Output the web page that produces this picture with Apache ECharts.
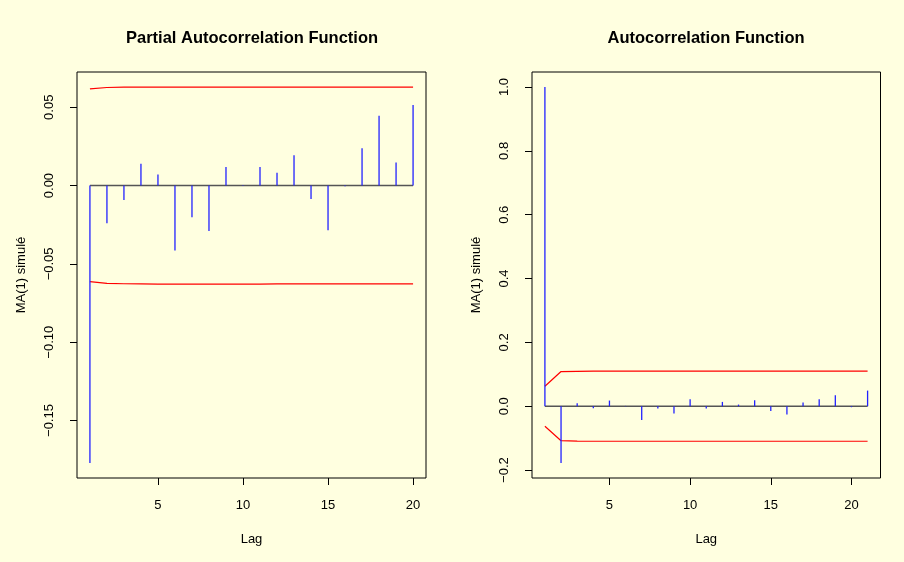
<!DOCTYPE html>
<html>
<head>
<meta charset="utf-8">
<script src="https://cdn.jsdelivr.net/npm/echarts@6/dist/echarts.min.js"></script>
<style>
  html, body { margin: 0; padding: 0; background: #FFFFE0; }
  #chart { width: 904px; height: 562px; }
</style>
</head>
<body>
<div id="chart"></div>
<script>
// Partial autocorrelation of the simulated MA(1) series, lags 1..20
const pacfLags = [1, 2, 3, 4, 5, 6, 7, 8, 9, 10, 11, 12, 13, 14, 15, 16, 17, 18, 19, 20];
const pacfValues = [-0.1771, -0.0241, -0.0092, 0.0140, 0.0070, -0.0415, -0.0202, -0.0290, 0.0119, 0.0004,
                    0.0119, 0.0081, 0.0194, -0.0085, -0.0285, -0.0004, 0.0238, 0.0445, 0.0147, 0.0515];
const pacfUpper = [0.0617, 0.0626, 0.0628, 0.0628, 0.0629, 0.0629, 0.0629, 0.0629, 0.0629, 0.0629,
                   0.0629, 0.0629, 0.0628, 0.0628, 0.0628, 0.0628, 0.0628, 0.0628, 0.0628, 0.0628];
const pacfLower = [-0.0613, -0.0625, -0.0627, -0.0628, -0.0629, -0.0629, -0.0629, -0.0629, -0.0629, -0.0629,
                   -0.0629, -0.0628, -0.0628, -0.0628, -0.0628, -0.0628, -0.0628, -0.0628, -0.0628, -0.0628];

// Autocorrelation of the same series, lags 1..21 (lag 1 = lag zero)
const acfLags = [1, 2, 3, 4, 5, 6, 7, 8, 9, 10, 11, 12, 13, 14, 15, 16, 17, 18, 19, 20, 21];
const acfValues = [1.0, -0.1777, 0.0094, -0.0063, 0.0178, 0.0010, -0.0428, -0.0073, -0.0230, 0.0220,
                   -0.0073, 0.0136, 0.0052, 0.0188, -0.0146, -0.0260, 0.0115, 0.0220, 0.0345, -0.0030, 0.0490];
const acfUpper = [0.0627, 0.1087, 0.1095, 0.1097, 0.1097, 0.1097, 0.1097, 0.1097, 0.1097, 0.1097,
                  0.1097, 0.1097, 0.1097, 0.1097, 0.1097, 0.1097, 0.1097, 0.1097, 0.1097, 0.1097, 0.1097];
const acfLower = [-0.0627, -0.1080, -0.1095, -0.1097, -0.1097, -0.1097, -0.1097, -0.1097, -0.1097, -0.1097,
                  -0.1097, -0.1097, -0.1097, -0.1097, -0.1097, -0.1097, -0.1097, -0.1097, -0.1097, -0.1097, -0.1097];

// Tick labels
const lagTicks = [5, 10, 15, 20];
const pacfYTicks = [-0.15, -0.10, -0.05, 0.00, 0.05];
const acfYTicks = [-0.2, 0.0, 0.2, 0.4, 0.6, 0.8, 1.0];

const FONT = '"Liberation Sans", Arial, Helvetica, sans-serif';

// Base-graphics style range: data extent padded by 4% on each side
function padRange(values) {
  const lo = Math.min(...values), hi = Math.max(...values);
  const d = (hi - lo) * 0.04;
  return [lo - d, hi + d];
}

function fmt(decimals) {
  return v => (v < -1e-9 ? '\u2212' : '') + Math.abs(v).toFixed(decimals);
}

function xAxisFor(gridIndex, lags) {
  const [mn, mx] = padRange(lags);
  return {
    type: 'value', gridIndex, min: mn, max: mx, position: 'bottom',
    name: 'Lag', nameLocation: 'middle', nameGap: 55,
    nameTextStyle: { fontFamily: FONT, fontSize: 13, color: '#000' },
    axisLine: { show: false, onZero: false },
    splitLine: { show: false },
    axisTick: { show: true, inside: false, length: 7, customValues: lagTicks,
                lineStyle: { color: '#000', width: 1 } },
    axisLabel: { customValues: lagTicks, margin: 21, fontFamily: FONT, fontSize: 13, color: '#000',
                 formatter: v => String(Math.round(v)) }
  };
}

function yAxisFor(gridIndex, allValues, ticks, decimals) {
  const [mn, mx] = padRange(allValues);
  return {
    type: 'value', gridIndex, min: mn, max: mx, position: 'left',
    name: 'MA(1) simulé', nameLocation: 'middle', nameGap: 49, nameRotate: 90,
    nameTextStyle: { fontFamily: FONT, fontSize: 13, color: '#000' },
    axisLine: { show: false, onZero: false },
    splitLine: { show: false },
    axisTick: { show: true, inside: false, length: 7, customValues: ticks,
                lineStyle: { color: '#000', width: 1 } },
    axisLabel: { customValues: ticks, rotate: 90, margin: 21, fontFamily: FONT, fontSize: 13, color: '#000',
                 formatter: fmt(decimals) }
  };
}

function spikeSeries(idx, lags, values, color) {
  return {
    type: 'custom', xAxisIndex: idx, yAxisIndex: idx, silent: true, animation: false, z: 4,
    data: lags.map((l, i) => [l, values[i]]),
    renderItem(params, api) {
      const p0 = api.coord([api.value(0), 0]);
      const p1 = api.coord([api.value(0), api.value(1)]);
      return { type: 'line', shape: { x1: p0[0], y1: p0[1], x2: p1[0], y2: p1[1] },
               style: { stroke: color, lineWidth: 1.3 } };
    }
  };
}

function lineSeries(idx, lags, values, color, width, z) {
  return {
    type: 'line', xAxisIndex: idx, yAxisIndex: idx, silent: true, animation: false,
    showSymbol: false, symbol: 'none', z,
    data: lags.map((l, i) => [l, values[i]]),
    lineStyle: { color, width }
  };
}

const chart = echarts.init(document.getElementById('chart'), null, { renderer: 'canvas' });
chart.setOption({
  backgroundColor: '#FFFFE0',
  animation: false,
  title: [
    { text: 'Partial Autocorrelation Function', left: 247, top: 25, textAlign: 'center',
      textStyle: { fontFamily: FONT, fontSize: 16.5, fontWeight: 'bold', color: '#000' } },
    { text: 'Autocorrelation Function', left: 701, top: 25, textAlign: 'center',
      textStyle: { fontFamily: FONT, fontSize: 16.5, fontWeight: 'bold', color: '#000' } }
  ],
  grid: [
    { left: 77, top: 72, width: 349, height: 406, show: true, borderColor: '#000', borderWidth: 1,
      backgroundColor: 'transparent' },
    { left: 532, top: 72, width: 348.5, height: 406, show: true, borderColor: '#000', borderWidth: 1,
      backgroundColor: 'transparent' }
  ],
  xAxis: [xAxisFor(0, pacfLags), xAxisFor(1, acfLags)],
  yAxis: [
    yAxisFor(0, pacfValues.concat(pacfUpper, pacfLower), pacfYTicks, 2),
    yAxisFor(1, acfValues.concat(acfUpper, acfLower), acfYTicks, 1)
  ],
  series: [
    lineSeries(0, pacfLags, pacfLags.map(() => 0), '#555555', 1.5, 2),
    lineSeries(0, pacfLags, pacfUpper, '#ff0000', 1.2, 3),
    lineSeries(0, pacfLags, pacfLower, '#ff0000', 1.2, 3),
    spikeSeries(0, pacfLags, pacfValues, '#2222ff'),
    lineSeries(1, acfLags, acfLags.map(() => 0), '#555555', 1.5, 2),
    lineSeries(1, acfLags, acfUpper, '#ff0000', 1.2, 3),
    lineSeries(1, acfLags, acfLower, '#ff0000', 1.2, 3),
    spikeSeries(1, acfLags, acfValues, '#2222ff')
  ]
});
</script>
</body>
</html>
